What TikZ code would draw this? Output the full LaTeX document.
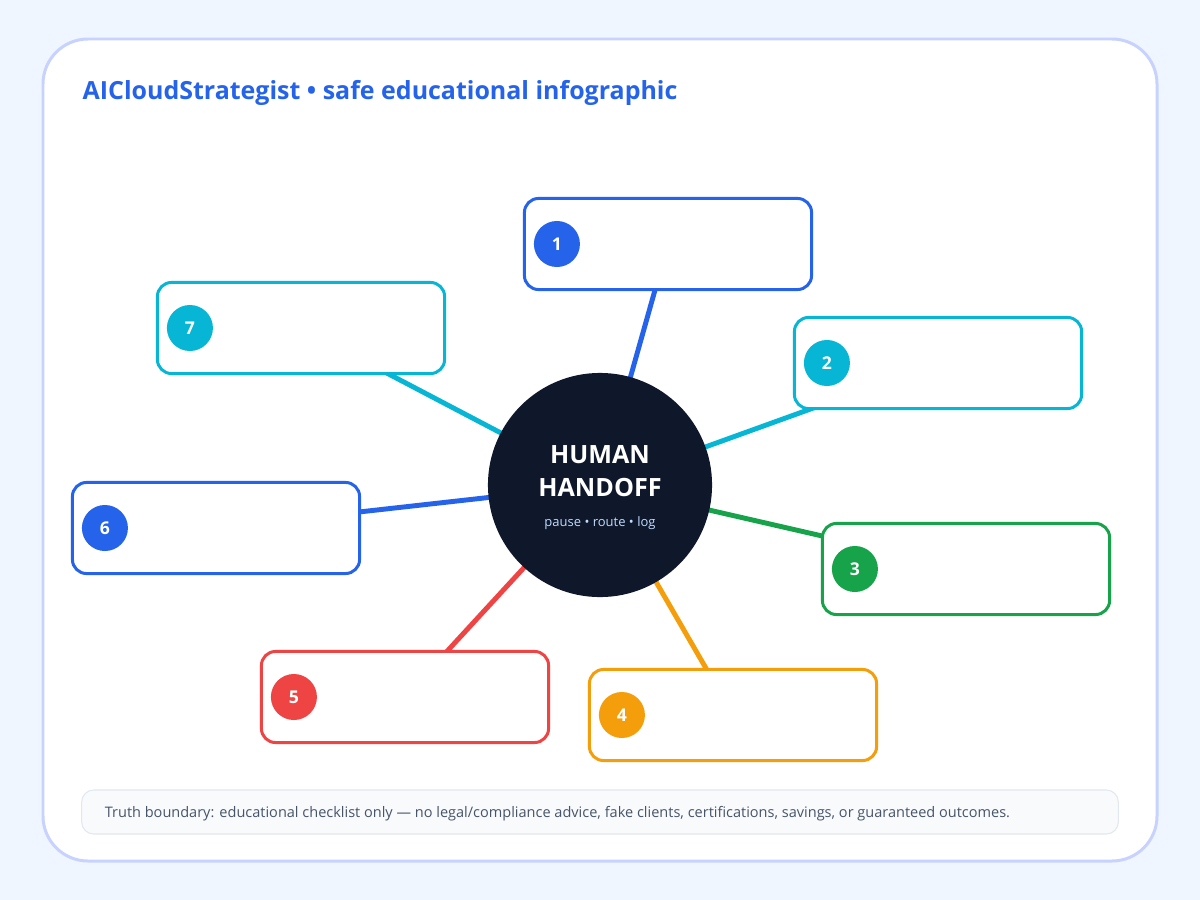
\documentclass[tikz,border=0pt]{standalone}
\usepackage{fontspec}
\setmainfont{Open Sans}
\usetikzlibrary{positioning,calc,backgrounds}

\definecolor{pagebg}{HTML}{EFF6FF}
\definecolor{cardline}{HTML}{C7D2FE}
\definecolor{brandblue}{HTML}{2563EB}
\definecolor{tealc}{HTML}{06B6D4}
\definecolor{greenc}{HTML}{16A34A}
\definecolor{amberc}{HTML}{F59E0B}
\definecolor{redc}{HTML}{EF4444}
\definecolor{navy}{HTML}{0F172A}
\definecolor{softblue}{HTML}{BFDBFE}
\definecolor{footfill}{HTML}{F8FAFC}
\definecolor{footline}{HTML}{E2E8F0}
\definecolor{foottext}{HTML}{475569}

\pgfdeclarelayer{back}
\pgfsetlayers{back,background,main}

\begin{document}
\begin{tikzpicture}[x=0.01cm,y=-0.01cm,
  itembox/.style={draw, line width=0.85pt, rounded corners=0.14cm, fill=white,
    minimum width=2.87cm, minimum height=0.91cm},
  badge/.style={circle, inner sep=0pt, minimum size=0.46cm, text=white,
    font=\fontsize{5}{6}\selectfont\bfseries},
  spoke/.style={line width=1.4pt},
  hubtext/.style={text=white, font=\fontsize{7.15}{8}\selectfont\bfseries, inner sep=0pt}]
% Page and card
\begin{pgfonlayer}{back}
  \fill[pagebg] (0,0) rectangle (1200,900);
  \draw[cardline, line width=0.85pt, fill=white, rounded corners=0.45cm] (43,39) rectangle (1157,861);
\end{pgfonlayer}
\node[anchor=base west, inner sep=0pt, text=brandblue, font=\fontsize{7.1}{8}\selectfont\bfseries] (title) at (82,100) {AICloudStrategist • safe educational infographic};
% Hub
\node[circle, fill=navy, minimum size=2.24cm, inner sep=0pt] (hub) at (600,485) {};
\node[hubtext, anchor=base] (hubname) at (600,463) {HUMAN};
\node[hubtext, anchor=base] (hubname2) at (600,496) {HANDOFF};
\node[anchor=base, inner sep=0pt, text=softblue, font=\fontsize{3.7}{4.5}\selectfont] (hubsub) at (600,526) {pause • route • log};
% Numbered boxes
\foreach \n/\x/\y/\c in {1/668/244/brandblue, 2/938/363/tealc, 3/966/569/greenc, 4/733/715/amberc,
                         5/405/697/redc, 6/216/528/brandblue, 7/301/328/tealc} {
  \node[itembox, draw=\c] (box\n) at (\x,\y) {};
  \node[badge, fill=\c] (badge\n) at ($(box\n.west)+(34,0)$) {\n};
}
% Spokes from the hub
\begin{scope}[on background layer]
  \foreach \n/\c in {1/brandblue, 2/tealc, 3/greenc, 4/amberc, 5/redc, 6/brandblue, 7/tealc}
    \draw[spoke, \c] (hub.center) -- (box\n.center);
\end{scope}
% Footer note
\node[draw=footline, line width=0.3pt, fill=footfill, rounded corners=0.12cm,
  minimum width=10.36cm, minimum height=0.44cm] (foot) at (600,812) {};
\node[anchor=base west, inner sep=0pt, text=foottext, font=\fontsize{4.13}{5}\selectfont] (footnote) at ($(foot.west)+(23,5)$)
  {Truth boundary: educational checklist only — no legal/compliance advice, fake clients, certifications, savings, or guaranteed outcomes.};
\end{tikzpicture}
\end{document}
